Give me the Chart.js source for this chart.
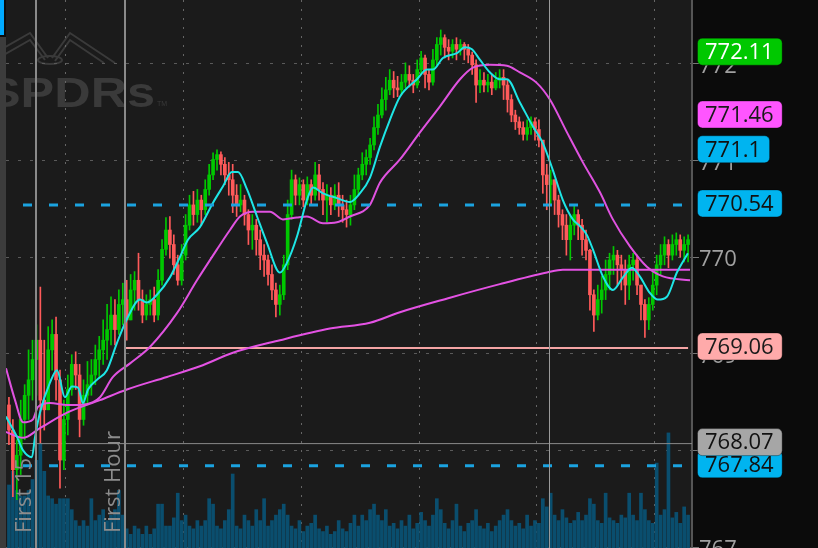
<!DOCTYPE html>
<html>
<head>
<meta charset="utf-8">
<script src="https://cdn.jsdelivr.net/npm/chart.js@4.4.1/dist/chart.umd.min.js"></script>
<style>
html, body { margin: 0; padding: 0; background: #0b0b0b; overflow: hidden; }
canvas { display: block; }
</style>
</head>
<body>
<canvas id="grafico" width="818" height="548"></canvas>
<script>
const FONT = '"Open Sans", "Noto Sans", sans-serif';
const GREEN = '#00c800';
const RED = '#ff5a5a';

// 2-minute candles from 9:30 (minute 0)
const firstOpen = 768.47;
const closes = [
  768.21, 767.80, 767.95, 768.32, 768.57, 768.73, 768.94, 769.14, 768.52, 768.42,
  769.04, 769.20, 768.73, 767.90, 768.32, 768.63, 768.89, 768.78, 768.32, 768.57,
  768.68, 768.78, 768.94, 769.04, 769.14, 769.25, 769.40, 769.25, 769.51, 769.56,
  769.35, 769.66, 769.76, 769.56, 769.40, 769.51, 769.56, 769.40, 769.76,
  770.08, 770.28, 770.13, 769.92, 769.76, 770.02, 770.33, 770.54, 770.44, 770.59,
  770.49, 770.70, 770.85, 771.01, 771.06, 770.96, 770.85, 770.80, 770.64, 770.54,
  770.59, 770.44, 770.28, 770.33, 770.18, 770.02, 769.97, 769.82, 769.66, 769.51,
  769.61, 769.92, 770.44, 770.80, 770.64, 770.75, 770.59, 770.75, 770.64, 770.85,
  770.70, 770.59, 770.64, 770.54, 770.64, 770.54, 770.49, 770.44, 770.54, 770.70,
  770.85, 770.96, 771.03, 771.16, 771.34, 771.47, 771.63, 771.73, 771.83,
  771.75, 771.73, 771.81, 771.89, 771.83, 771.78, 771.94, 772.06, 771.89, 771.81,
  772.04, 772.20, 772.27, 772.17, 772.13, 772.20, 772.15, 772.20, 772.15, 772.09,
  771.99, 771.78, 771.83, 771.78, 771.81, 771.75, 771.83, 771.86, 771.78, 771.63,
  771.47, 771.40, 771.34, 771.27, 771.34, 771.40, 771.32, 771.21, 770.85, 770.75,
  770.80, 770.59, 770.44, 770.33, 770.18, 770.33, 770.44, 770.33, 770.18, 770.07,
  769.61, 769.40, 769.56, 769.66, 769.82, 769.97, 770.02, 769.92, 769.87,
  769.71, 769.92, 769.97, 769.71, 769.51, 769.35, 769.51, 769.71, 769.92, 770.02,
  770.13, 770.02, 770.13, 770.18, 770.07, 770.13, 770.18
];
const highs = [
  768.55, 768.32, 768.11, 768.52, 768.68, 769.04, 769.14, 769.30, 769.69, 769.14,
  769.28, 769.35, 769.38, 768.83, 768.52, 768.78, 768.99, 769.02, 768.89, 768.73,
  768.92, 768.94, 769.09, 769.18, 769.35, 769.51, 769.59, 769.56, 769.66, 769.73,
  769.76, 769.82, 769.85, 770.04, 769.66, 769.61, 769.66, 769.69, 769.87,
  770.18, 770.41, 770.42, 770.23, 770.02, 770.13, 770.44, 770.64, 770.68, 770.70,
  770.64, 770.80, 770.96, 771.08, 771.11, 771.09, 771.03, 770.98, 770.96, 770.75,
  770.75, 770.64, 770.49, 770.44, 770.39, 770.28, 770.13, 770.02, 769.92, 769.73,
  769.71, 770.02, 770.59, 770.90, 770.85, 770.82, 770.80, 770.83, 770.80, 770.98,
  770.96, 770.77, 770.75, 770.72, 770.75, 770.77, 770.64, 770.59, 770.64, 770.85,
  770.92, 771.08, 771.11, 771.23, 771.45, 771.58, 771.75, 771.86, 771.94,
  771.92, 771.87, 771.89, 772.01, 771.98, 771.89, 772.04, 772.13, 772.09, 771.94,
  772.15, 772.27, 772.35, 772.30, 772.25, 772.25, 772.27, 772.25, 772.22, 772.20,
  772.12, 772.04, 771.94, 771.91, 771.89, 771.89, 771.91, 771.94, 771.94, 771.83,
  771.68, 771.52, 771.45, 771.40, 771.42, 771.45, 771.44, 771.42, 771.21, 770.96,
  770.90, 770.80, 770.64, 770.49, 770.44, 770.44, 770.54, 770.49, 770.39, 770.28,
  770.08, 769.66, 769.71, 769.80, 769.97, 770.04, 770.11, 770.07, 770.02,
  769.97, 770.02, 770.04, 770.02, 769.71, 769.56, 769.58, 769.87, 770.02, 770.13,
  770.21, 770.18, 770.23, 770.25, 770.23, 770.21, 770.23
];
const lows = [
  768.06, 767.52, 767.49, 767.75, 768.11, 768.32, 768.52, 768.57, 768.08, 768.21,
  768.47, 768.83, 768.52, 767.61, 767.80, 768.16, 768.57, 768.63, 768.14, 768.26,
  768.47, 768.57, 768.68, 768.75, 768.89, 768.94, 769.09, 769.09, 769.20, 769.30,
  769.14, 769.40, 769.45, 769.45, 769.32, 769.35, 769.40, 769.33, 769.35,
  769.71, 770.02, 769.99, 769.82, 769.71, 769.71, 769.97, 770.28, 770.33, 770.36,
  770.33, 770.44, 770.64, 770.80, 770.90, 770.85, 770.75, 770.64, 770.46, 770.42,
  770.47, 770.33, 770.13, 770.08, 770.02, 769.87, 769.80, 769.71, 769.56, 769.38,
  769.40, 769.56, 769.87, 770.39, 770.54, 770.54, 770.52, 770.54, 770.54, 770.59,
  770.59, 770.44, 770.36, 770.44, 770.49, 770.42, 770.36, 770.31, 770.33, 770.49,
  770.64, 770.80, 770.85, 770.96, 771.11, 771.27, 771.44, 771.52, 771.68,
  771.65, 771.66, 771.68, 771.75, 771.76, 771.70, 771.75, 771.89, 771.75, 771.73,
  771.78, 771.99, 772.09, 772.06, 772.04, 772.06, 772.04, 772.09, 772.04, 772.01,
  771.89, 771.60, 771.70, 771.71, 771.71, 771.68, 771.73, 771.75, 771.63, 771.50,
  771.40, 771.32, 771.27, 771.21, 771.21, 771.27, 771.21, 771.14, 770.66, 770.49,
  770.54, 770.44, 770.31, 770.18, 770.02, 769.97, 770.23, 770.18, 770.02, 769.97,
  769.45, 769.23, 769.35, 769.42, 769.56, 769.66, 769.82, 769.71, 769.66,
  769.51, 769.56, 769.76, 769.61, 769.35, 769.17, 769.25, 769.45, 769.61, 769.82,
  769.92, 769.89, 769.97, 770.02, 770.00, 769.95, 769.95
];
// volume, thousands of shares
const volumes = [
  23, 28, 21, 19, 19, 21, 25, 32, 38, 28,
  19, 18, 16, 18, 18, 18, 14, 10, 8, 10,
  8, 18, 10, 12, 14, 10, 12, 14, 21, 12,
  7, 5, 8, 7, 5, 8, 5, 7, 16,
  16, 8, 8, 11, 20, 10, 12, 8, 7, 10,
  8, 10, 18, 16, 8, 7, 10, 14, 27, 8,
  7, 12, 10, 8, 14, 10, 18, 8, 10, 12,
  14, 16, 12, 8, 7, 10, 6, 8, 9, 12,
  7, 6, 8, 5, 6, 10, 7, 6, 9, 12,
  8, 12, 10, 14, 16, 12, 10, 14, 8,
  9, 7, 10, 8, 12, 7, 9, 13, 10, 8,
  12, 18, 14, 9, 7, 10, 16, 8, 6, 9,
  10, 14, 8, 7, 9, 6, 8, 10, 12, 14,
  10, 8, 9, 7, 12, 8, 10, 9, 18, 15,
  20, 12, 10, 14, 11, 9, 10, 13, 10, 12,
  18, 16, 10, 9, 20, 11, 10, 9, 12,
  11, 20, 12, 10, 20, 14, 10, 9, 31, 12,
  14, 42, 11, 13, 9, 15, 12
];

// studies, read at minute positions
const fastMinutes = [-0.5, 5.1, 8.2, 12.7, 14.3, 16.8, 21.9, 25.5, 29.5, 33.1, 36.2, 38.7, 41.3, 45.8, 50.9, 56, 61.6, 67.8, 71.3, 76.4, 83, 88.1, 92.2, 98.3, 104.9, 110, 114.6, 117.7, 122.3, 127.4, 132.4, 139.1, 142.6, 147.7, 152.8, 155.9, 161, 168.1, 174.7, 179.8, 184.9, 190, 195.1, 200.2, 208.9, 214, 217, 222.1, 229.2, 233.3, 236.9, 241, 246.1, 251.1, 254.7, 261.3, 268, 273, 278.1, 283.2, 288.3, 291.9, 295.4, 298.5, 303.6, 308.7, 313.8, 318.4, 322.4, 327.5, 331.6, 336.2, 341.3, 346.9];
const fastValues = [768.35, 768.14, 768.00, 767.93, 768.14, 768.39, 768.70, 768.83, 768.55, 768.66, 768.65, 768.49, 768.63, 768.73, 768.83, 769.11, 769.38, 769.56, 769.53, 769.61, 769.79, 770.00, 770.18, 770.31, 770.56, 770.73, 770.88, 770.88, 770.70, 770.42, 770.15, 769.84, 769.94, 770.21, 770.59, 770.72, 770.66, 770.61, 770.57, 770.66, 770.82, 771.14, 771.42, 771.66, 771.84, 771.94, 771.94, 772.06, 772.11, 772.17, 772.15, 772.04, 771.91, 771.84, 771.84, 771.60, 771.35, 771.18, 770.90, 770.59, 770.39, 770.32, 770.23, 770.08, 769.80, 769.66, 769.79, 769.89, 769.80, 769.63, 769.56, 769.59, 769.84, 770.04];

const slowMinutes = [-0.5, 4.1, 8.2, 13.2, 15.8, 21.9, 30.6, 37.2, 43.8, 47.4, 54, 62.7, 72.8, 86.6, 96.8, 107, 113.6, 118.7, 125.3, 134, 140.6, 147.7, 152.8, 161, 168.1, 174.7, 184.9, 190, 200.2, 210.4, 220.6, 230.8, 237.4, 246.1, 254.7, 261.3, 270, 276.6, 285.3, 293.4, 302.1, 308.7, 317.4, 326, 334.2, 348];
const slowValues = [768.85, 768.52, 768.29, 768.32, 768.45, 768.49, 768.47, 768.47, 768.50, 768.55, 768.76, 768.90, 769.07, 769.42, 769.76, 770.08, 770.28, 770.42, 770.47, 770.47, 770.39, 770.41, 770.42, 770.35, 770.36, 770.42, 770.54, 770.77, 771.01, 771.29, 771.56, 771.84, 771.96, 771.99, 771.98, 771.91, 771.80, 771.63, 771.29, 770.98, 770.67, 770.39, 770.11, 769.90, 769.80, 769.76];

const vwapMinutes = [-0.5, 8.2, 16.8, 30.6, 47.4, 61.1, 81.5, 98.3, 115.1, 139.1, 164.5, 184.9, 200.2, 225.7, 251.1, 275.1, 283.2, 348];
const vwapValues = [768.19, 768.13, 768.23, 768.39, 768.52, 768.63, 768.76, 768.87, 769.01, 769.14, 769.26, 769.32, 769.43, 769.58, 769.72, 769.84, 769.87, 769.87];

// price levels and axis
const dashedLevels = [770.54, 767.84];
const pinkLevel = 769.06;
const prevClose = 768.07;
const levelStart = -0.5;
const levelEnd = 347;
const pinkStart = 60;
const yTicks = [767, 768, 769, 770, 771, 772];
const hourMinutes = [30, 90, 150, 210, 270, 330];
const markerMinutes = [15, 60, 276];
const markerTexts = ['First 15', 'First Hour', ''];

const boxValues = [772.11, 771.46, 771.1, 770.54, 769.06, 767.84, 768.07];
const boxStyles = [
  { bg: '#00c800', fg: '#ffffff' },
  { bg: '#ff55ff', fg: '#1a1a1a' },
  { bg: '#00b4f0', fg: '#111111' },
  { bg: '#00b4f0', fg: '#111111' },
  { bg: '#ffaaaa', fg: '#1a1a1a' },
  { bg: '#00b4f0', fg: '#111111' },
  { bg: '#a6a6a6', fg: '#111111' }
];

const minutes = closes.map((_, i) => i * 2 + 1);
const opens = closes.map((c, i) => i === 0 ? firstOpen : closes[i - 1]);
const candleColors = closes.map((c, i) => c >= opens[i] ? GREEN : RED);

const pts = (xs, ys) => xs.map((x, i) => ({ x: x, y: ys[i] }));
const flat = (x0, x1, v) => [{ x: x0, y: v }, { x: x1, y: v }];

const lineBase = { type: 'line', pointRadius: 0, borderWidth: 2, fill: false, yAxisID: 'y' };

const decor = {
  id: 'decor',
  beforeDraw(chart) {
    const { ctx, chartArea: a } = chart;
    ctx.save();
    ctx.fillStyle = '#0b0b0b';
    ctx.fillRect(0, 0, chart.width, chart.height);
    ctx.fillStyle = '#1b1b1b';
    ctx.fillRect(a.left, a.top, a.right - a.left, a.bottom - a.top);
    ctx.fillStyle = '#3c3c3c';
    ctx.fillRect(0, 37, a.left, chart.height - 37);
    ctx.fillStyle = '#00aaff';
    ctx.fillRect(0, 0, 4, 35);

    // SPDRs watermark
    ctx.beginPath();
    ctx.rect(a.left, a.top, a.right - a.left, a.bottom - a.top);
    ctx.clip();
    ctx.strokeStyle = '#3a3a3a';
    ctx.lineWidth = 2;
    [[[0, 50], [30, 33], [48, 58]], [[0, 57], [30, 40], [45, 60]],
     [[52, 58], [70, 33], [115, 63]], [[55, 61], [70, 40], [104, 63]]].forEach(p => {
      ctx.beginPath();
      ctx.moveTo(p[0][0], p[0][1]);
      p.slice(1).forEach(q => ctx.lineTo(q[0], q[1]));
      ctx.stroke();
    });
    ctx.beginPath();
    ctx.ellipse(50, 60, 12, 4, 0, 0, Math.PI * 2);
    ctx.stroke();
    ctx.fillStyle = '#3a3a3a';
    ctx.save();
    ctx.translate(-13, 107);
    ctx.scale(1.2, 1);
    ctx.font = 'bold 42px "Liberation Sans", sans-serif';
    ctx.fillText('SPDRs', 0, 0);
    ctx.restore();
    ctx.font = '7px "Liberation Sans", sans-serif';
    ctx.fillText('TM', 157, 106);
    ctx.restore();
  },
  afterDatasetsDraw(chart) {
    const { ctx, chartArea: a } = chart;
    const xs = chart.scales.x;
    ctx.save();
    markerMinutes.forEach((m, i) => {
      const x = Math.round(xs.getPixelForValue(m));
      ctx.strokeStyle = i < 2 ? '#8a8a8a' : '#9a9a9a';
      ctx.lineWidth = i < 2 ? 2 : 1;
      ctx.beginPath();
      ctx.moveTo(x + (i < 2 ? 0 : 0.5), a.top);
      ctx.lineTo(x + (i < 2 ? 0 : 0.5), a.bottom);
      ctx.stroke();
      if (markerTexts[i]) {
        ctx.save();
        ctx.translate(x - 5, 533);
        ctx.rotate(-Math.PI / 2);
        ctx.fillStyle = '#8c8c8c';
        ctx.font = '22px ' + FONT;
        ctx.textAlign = 'left';
        ctx.textBaseline = 'alphabetic';
        ctx.fillText(markerTexts[i], 0, 0);
        ctx.restore();
      }
    });
    ctx.restore();
  },
  afterDraw(chart) {
    const { ctx } = chart;
    const ys = chart.scales.y;
    ctx.save();
    ctx.font = '22px ' + FONT;
    ctx.textBaseline = 'middle';
    boxValues.forEach((v, i) => {
      const txt = String(v);
      const w = ctx.measureText(txt).width + 16;
      const yc = ys.getPixelForValue(v) - 1.5;
      ctx.beginPath();
      ctx.roundRect(697.5, yc - 13.5, w, 27, 5);
      ctx.fillStyle = boxStyles[i].bg;
      ctx.fill();
      ctx.strokeStyle = 'rgba(0,0,0,0.35)';
      ctx.lineWidth = 1;
      ctx.stroke();
      ctx.fillStyle = boxStyles[i].fg;
      ctx.fillText(txt, 705, yc + 1);
    });
    ctx.restore();
  }
};

Chart.defaults.font.family = FONT;

new Chart(document.getElementById('grafico'), {
  type: 'bar',
  data: {
    datasets: [
      {
        type: 'bar', label: 'Volume', yAxisID: 'yVol', order: 20, grouped: false,
        data: pts(minutes, volumes), backgroundColor: '#0a4e6e', barThickness: 3, borderWidth: 0
      },
      {
        ...lineBase, label: 'Prev close', order: 15, borderColor: '#8a8a8a', borderWidth: 1,
        data: flat(levelStart, 349, prevClose)
      },
      {
        type: 'bar', label: 'Wicks', yAxisID: 'y', order: 12, grouped: false,
        data: minutes.map((m, i) => ({
          x: m,
          y: [Math.min(lows[i], opens[i], closes[i]), Math.max(highs[i], opens[i], closes[i])]
        })),
        backgroundColor: candleColors, barThickness: 1, borderWidth: 0
      },
      {
        type: 'bar', label: 'Candles', yAxisID: 'y', order: 11, grouped: false,
        data: minutes.map((m, i) => ({ x: m, y: [opens[i], closes[i]] })),
        backgroundColor: candleColors, barThickness: 3, borderWidth: 0, minBarLength: 1
      },
      {
        ...lineBase, label: 'Level', order: 9, borderColor: '#f4a4a4',
        data: flat(pinkStart, levelEnd, pinkLevel)
      },
      {
        ...lineBase, label: 'VWAP', order: 8, borderColor: '#e452e4', cubicInterpolationMode: 'monotone',
        data: pts(vwapMinutes, vwapValues)
      },
      {
        ...lineBase, label: 'Slow MA', order: 7, borderColor: '#e052e0', cubicInterpolationMode: 'monotone',
        data: pts(slowMinutes, slowValues)
      },
      {
        ...lineBase, label: 'Fast MA', order: 6, borderColor: '#1ee6e6', cubicInterpolationMode: 'monotone',
        data: pts(fastMinutes, fastValues)
      },
      ...dashedLevels.map(v => ({
        ...lineBase, label: 'Dashed ' + v, order: 5, borderColor: '#1ba3e0', borderWidth: 3,
        borderDash: [9, 17], borderDashOffset: 9, data: flat(levelStart, levelEnd, v)
      }))
    ]
  },
  options: {
    responsive: false,
    animation: false,
    devicePixelRatio: 1,
    layout: { padding: { left: 6, top: 0, right: 0, bottom: 0 } },
    plugins: { legend: { display: false }, tooltip: { enabled: false } },
    scales: {
      x: {
        type: 'linear', min: -0.5, max: 349, offset: false,
        afterBuildTicks: s => { s.ticks = hourMinutes.map(v => ({ value: v })); },
        afterFit: s => { s.height = 0; s.paddingLeft = 0; s.paddingRight = 0; },
        ticks: { display: false, autoSkip: false },
        grid: { color: '#666666', drawTicks: false, lineWidth: 1, offset: false },
        border: { display: false, dash: [2, 7] }
      },
      y: {
        position: 'right', min: 766.99, max: 772.66,
        afterBuildTicks: s => { s.ticks = yTicks.map(v => ({ value: v })); },
        afterFit: s => { s.width = 126; s.paddingTop = 0; s.paddingBottom = 0; },
        ticks: { color: '#a0a0a0', font: { size: 22 }, padding: 0, labelOffset: 3, callback: v => String(v) },
        grid: { color: '#5a5a5a', tickColor: '#777777', tickLength: 7, lineWidth: 1 },
        border: { display: true, color: '#555555', width: 2, dash: [3, 9] }
      },
      yVol: {
        type: 'linear', display: false, min: 0, max: 200
      }
    }
  },
  plugins: [decor]
});
</script>
</body>
</html>
